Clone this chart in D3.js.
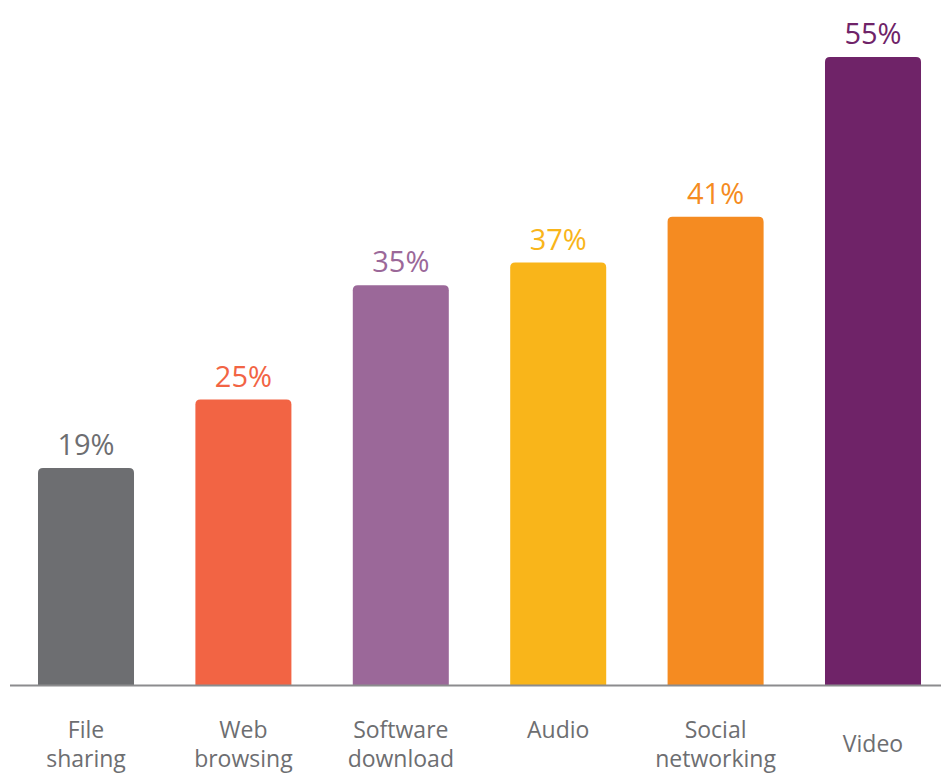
<!DOCTYPE html>
<html>
<head>
<meta charset="utf-8">
<script src="https://cdn.jsdelivr.net/npm/d3@7/dist/d3.min.js"></script>
<style>
  html, body { margin: 0; padding: 0; background: #ffffff; }
  svg { display: block; }
  text { font-family: "Open Sans", "DejaVu Sans", sans-serif; }
</style>
</head>
<body>
<svg id="chart" width="941" height="776"></svg>
<script>
// Share of usage by activity (%)
const categories = ["File sharing", "Web browsing", "Software download", "Audio", "Social networking", "Video"];
const labelLines = [["File", "sharing"], ["Web", "browsing"], ["Software", "download"], ["Audio"], ["Social", "networking"], ["Video"]];
const values = [19, 25, 35, 37, 41, 55];
const colors = ["#6d6e71", "#f26444", "#9b6899", "#f9b51a", "#f58b21", "#6f2368"];

const W = 941, H = 776;
const baseline = 685;

const svg = d3.select("#chart");

const x = d3.scaleBand()
  .domain(categories)
  .range([7.3, 951.7])
  .paddingInner(0.39)
  .paddingOuter(0.195);

const y = d3.scaleLinear()
  .domain([0, 55])
  .range([baseline, 57]);

// bar with rounded top corners
function topRoundedBar(x0, y0, w, h, r) {
  r = Math.min(r, w / 2, h);
  return `M${x0},${y0 + h}` +
    `V${y0 + r}` +
    `Q${x0},${y0} ${x0 + r},${y0}` +
    `H${x0 + w - r}` +
    `Q${x0 + w},${y0} ${x0 + w},${y0 + r}` +
    `V${y0 + h}Z`;
}

const data = categories.map((c, i) => ({ c, v: values[i], color: colors[i], lines: labelLines[i] }));

svg.append("g")
  .selectAll("path")
  .data(data)
  .join("path")
  .attr("d", d => topRoundedBar(x(d.c), y(d.v), x.bandwidth(), baseline - y(d.v), 5))
  .attr("fill", d => d.color);

// baseline
svg.append("line")
  .attr("x1", 10).attr("x2", W)
  .attr("y1", baseline + 0.5).attr("y2", baseline + 0.5)
  .attr("stroke", "#8c8c8e")
  .attr("stroke-width", 2);

// value labels
svg.append("g")
  .selectAll("text")
  .data(data)
  .join("text")
  .attr("x", d => x(d.c) + x.bandwidth() / 2)
  .attr("y", d => y(d.v) - 13)
  .attr("text-anchor", "middle")
  .attr("font-size", 29)
  .attr("fill", d => d.color)
  .text(d => d.v + "%");

// category labels
const cat = svg.append("g")
  .selectAll("text")
  .data(data)
  .join("text")
  .attr("x", d => x(d.c) + x.bandwidth() / 2)
  .attr("y", d => d.c === "Video" ? 752 : 738)
  .attr("text-anchor", "middle")
  .attr("font-size", 23)
  .attr("fill", "#6d6e71");

cat.selectAll("tspan")
  .data(d => d.lines.map(t => ({ t, cx: x(d.c) + x.bandwidth() / 2 })))
  .join("tspan")
  .attr("x", d => d.cx)
  .attr("dy", (d, i) => i === 0 ? 0 : 29)
  .text(d => d.t);
</script>
</body>
</html>
